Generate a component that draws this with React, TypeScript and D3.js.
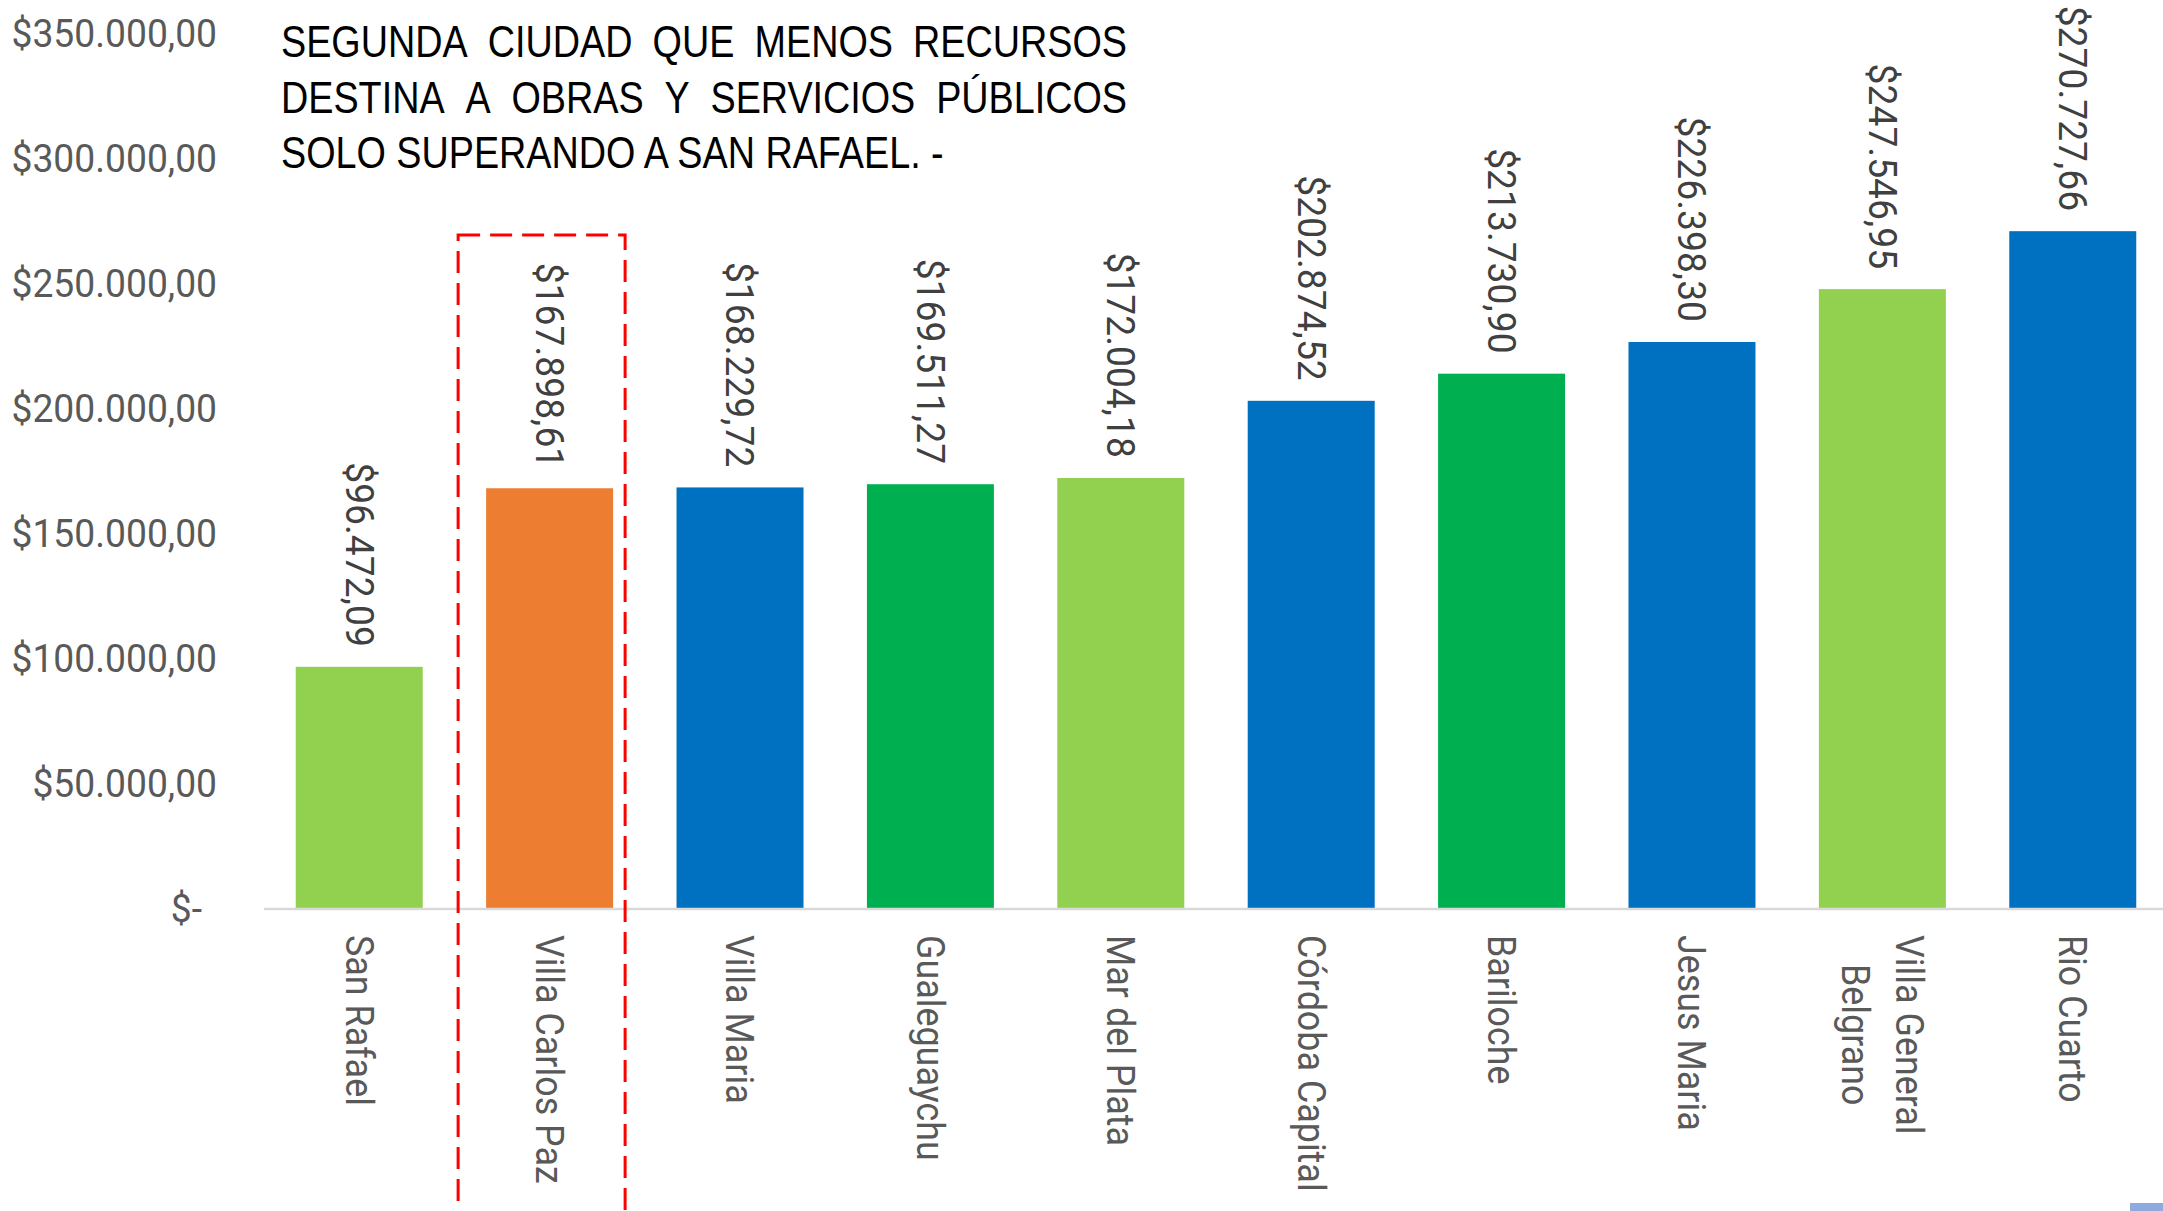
import * as d3 from "d3";
import { useEffect, useRef } from "react";

const ciudades = [
  "San Rafael",
  "Villa Carlos Paz",
  "Villa Maria",
  "Gualeguaychu",
  "Mar del Plata",
  "Córdoba Capital",
  "Bariloche",
  "Jesus Maria",
  "Villa General Belgrano",
  "Rio Cuarto",
];
// nombre partido en renglones como en el original
const renglones: Record<string, string[]> = {
  "Villa General Belgrano": ["Villa General", "Belgrano"],
};
const montos = [
  96472.09, 167898.61, 168229.72, 169511.27, 172004.18, 202874.52, 213730.9,
  226398.3, 247546.95, 270727.66,
];
const colores = [
  "#92D050", "#ED7D31", "#0070C0", "#00B050", "#92D050",
  "#0070C0", "#00B050", "#0070C0", "#92D050", "#0070C0",
];
const marcasY = [0, 50000, 100000, 150000, 200000, 250000, 300000, 350000];
const titulo = [
  "SEGUNDA CIUDAD QUE MENOS RECURSOS",
  "DESTINA A OBRAS Y SERVICIOS PÚBLICOS",
  "SOLO SUPERANDO A SAN RAFAEL. -",
];
const destacada = "Villa Carlos Paz";

export default function App() {
  const svgRef = useRef<SVGSVGElement | null>(null);

  useEffect(() => {
    const width = 2163;
    const height = 1211;
    const base = 908;
    const font = "Roboto, 'Liberation Sans', Arial, sans-serif";
    const fs = 39;
    const sxNum = 0.955;

    const svg = d3.select(svgRef.current);
    svg.selectAll("*").remove();
    svg.attr("width", width).attr("height", height);

    const data = ciudades.map((c, i) => ({ c, v: montos[i], col: colores[i] }));

    const x = d3
      .scaleBand()
      .domain(ciudades)
      .range([264, 2168])
      .paddingInner(0.333)
      .paddingOuter(0.1667);

    const y = d3.scaleLinear().domain([0, 350000]).range([base, 33]);

    const loc = d3.formatLocale({
      decimal: ",",
      thousands: ".",
      grouping: [3],
      currency: ["$", ""],
    });
    const money = loc.format("$,.2f");
    const fmt = (v: number) => (v === 0 ? "$-" : money(v));

    // eje Y (solo etiquetas)
    svg
      .append("g")
      .selectAll("text")
      .data(marcasY)
      .join("text")
      .attr("transform", (d) => `translate(${d === 0 ? 202 : 217},${y(d)}) scale(${sxNum},1)`)
      .attr("dy", "0.35em")
      .attr("text-anchor", "end")
      .attr("font-family", font)
      .attr("font-size", fs)
      .attr("fill", "#595959")
      .text((d) => fmt(d));

    // barras
    svg
      .append("g")
      .selectAll("rect")
      .data(data)
      .join("rect")
      .attr("x", (d) => x(d.c)!)
      .attr("y", (d) => y(d.v))
      .attr("width", x.bandwidth())
      .attr("height", (d) => base - y(d.v))
      .attr("fill", (d) => d.col);

    // línea base
    svg
      .append("line")
      .attr("x1", 264)
      .attr("x2", width)
      .attr("y1", base + 1)
      .attr("y2", base + 1)
      .attr("stroke", "#D9D9D9")
      .attr("stroke-width", 2.5);

    // etiquetas de valor
    svg
      .append("g")
      .selectAll("text")
      .data(data)
      .join("text")
      .attr(
        "transform",
        (d) => `translate(${x(d.c)! + x.bandwidth() / 2},${y(d.v) - 20}) rotate(90) scale(${sxNum},1)`
      )
      .attr("dy", "0.35em")
      .attr("text-anchor", "end")
      .attr("font-family", font)
      .attr("font-size", fs)
      .attr("fill", "#404040")
      .text((d) => fmt(d.v));

    // etiquetas de categoría
    const sx = 0.92;
    const gCat = svg.append("g");
    ciudades.forEach((c) => {
      const lines = renglones[c] || [c];
      const cx = x(c)! + x.bandwidth() / 2;
      const top = 935;
      const n = lines.length;
      const texts = lines.map((l, i) => {
        const off = ((n - 1) / 2 - i) * 54;
        return gCat
          .append("text")
          .attr("font-family", font)
          .attr("font-size", fs)
          .attr("fill", "#595959")
          .attr("dy", "0.35em")
          .attr("data-off", off)
          .text(l);
      });
      if (n === 1) {
        texts[0]
          .attr("text-anchor", "start")
          .attr("transform", `translate(${cx},${top}) rotate(90) scale(${sx},1)`);
      } else {
        const maxLen = d3.max(texts, (t) => (t.node() as SVGTextElement).getComputedTextLength())!;
        const mid = top + (maxLen * sx) / 2;
        texts.forEach((t) => {
          const off = +t.attr("data-off");
          t.attr("text-anchor", "middle").attr(
            "transform",
            `translate(${cx + off},${mid}) rotate(90) scale(${sx},1)`
          );
        });
      }
    });

    // recuadro punteado
    const xd = x(destacada)!;
    svg
      .append("rect")
      .attr("x", xd - 28)
      .attr("y", 235)
      .attr("width", x.bandwidth() + 40)
      .attr("height", 1020)
      .attr("fill", "none")
      .attr("stroke", "#FF0000")
      .attr("stroke-width", 3)
      .attr("stroke-dasharray", "22 10");

    // título
    const tFont = "'Liberation Sans Narrow', 'Arial Narrow', 'Liberation Sans', Arial, sans-serif";
    const tLeft = 281;
    const tRight = 1127;
    const baselines = [57, 113, 168];
    const gT = svg.append("g");

    // escala horizontal a partir del último renglón (sin justificar)
    const probe = gT
      .append("text")
      .attr("font-family", tFont)
      .attr("font-size", 45)
      .text(titulo[2]);
    const w3 = (probe.node() as SVGTextElement).getComputedTextLength();
    probe.remove();
    const s = 663 / w3;

    titulo.forEach((line, li) => {
      const g = gT
        .append("g")
        .attr("transform", `translate(${tLeft},${baselines[li]}) scale(${s},1)`);
      if (li === titulo.length - 1) {
        g.append("text")
          .attr("font-family", tFont)
          .attr("font-size", 45)
          .attr("fill", "#000")
          .text(line);
        return;
      }
      const words = line.split(" ");
      const nodes = words.map((w) =>
        g.append("text").attr("font-family", tFont).attr("font-size", 45).attr("fill", "#000").text(w)
      );
      const widths = nodes.map((t) => (t.node() as SVGTextElement).getComputedTextLength());
      const total = (tRight - tLeft) / s;
      const gap = (total - d3.sum(widths)) / (words.length - 1);
      let cur = 0;
      nodes.forEach((t, i) => {
        t.attr("x", cur);
        cur += widths[i] + gap;
      });
    });

    // pequeño recuadro en la esquina inferior derecha
    svg
      .append("rect")
      .attr("x", 2130)
      .attr("y", 1203)
      .attr("width", 33)
      .attr("height", 8)
      .attr("fill", "#8FAADC");
  }, []);

  return (
    <div style={{ position: "absolute", left: 0, top: 0, background: "#fff" }}>
      <svg ref={svgRef} style={{ display: "block" }}></svg>
    </div>
  );
}
